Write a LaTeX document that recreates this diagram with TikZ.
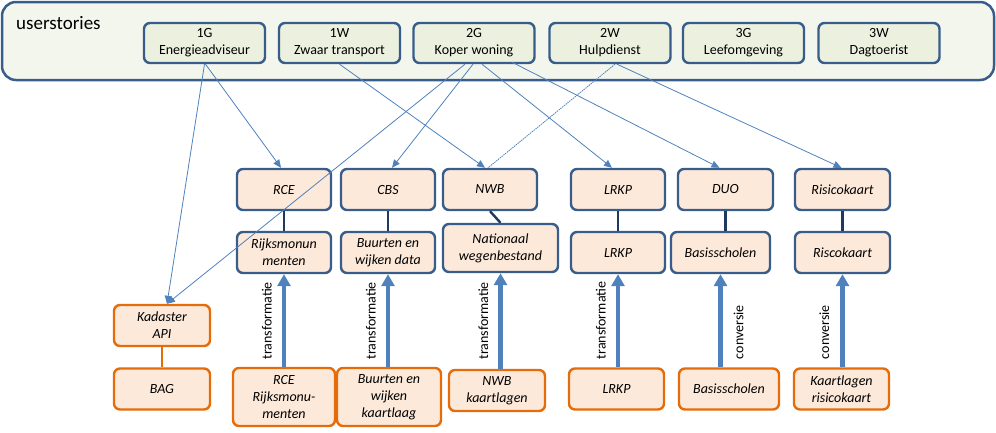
\documentclass[tikz,border=0pt]{standalone}
\usepackage{fontspec}
\setmainfont{Carlito}
\usepackage{tikz}
\usetikzlibrary{arrows.meta}
\definecolor{boxblue}{HTML}{385D8A}
\definecolor{storyfill}{HTML}{EBF1DE}
\definecolor{outerfill}{HTML}{F3F6EC}
\definecolor{peach}{HTML}{FDE9D9}
\definecolor{rawline}{HTML}{E46C0A}
\definecolor{linkblue}{HTML}{4F81BD}
\definecolor{navy}{HTML}{1F3A60}
\begin{document}
\begin{tikzpicture}[x=1pt,y=-1pt,
        story/.style={draw=boxblue,fill=storyfill,line width=2.4pt,rounded corners=6pt,minimum width=121pt,minimum height=40pt,inner sep=0pt,align=center,font=\fontsize{14}{17}\selectfont},
        src/.style={draw=boxblue,fill=peach,line width=2.4pt,rounded corners=6pt,minimum width=94pt,minimum height=41pt,inner sep=0pt,align=center,font=\fontsize{14}{17}\selectfont\itshape},
        raw/.style={src,draw=rawline},
        joinline/.style={navy,line width=2.4pt},
        link/.style={linkblue,line width=0.8pt,-{Triangle[length=8pt,width=7pt]}},
        conv/.style={linkblue,line width=4.5pt,-{Triangle[length=12pt,width=13pt]}},
        lbl/.style={inner sep=0pt,rotate=90,text=black,font=\fontsize{14}{17}\selectfont}]
        \useasboundingbox (0,0) rectangle (996,432);
        \draw[boxblue,fill=outerfill,line width=2.5pt,rounded corners=14pt] (2,2) rectangle (994,80);
        \node[anchor=base west,inner sep=0pt,font=\fontsize{19}{22}\selectfont] (title) at (16,29) {userstories};

        \node[story] (s1g) at (204.5,43) {1G\\Energieadviseur};
        \node[story] (s1w) at (339.5,43) {1W\\Zwaar transport};
        \node[story] (s2g) at (474,43) {2G\\Koper woning};
        \node[story] (s2w) at (610,43) {2W\\Hulpdienst};
        \node[story] (s3g) at (743.5,43) {3G\\Leefomgeving};
        \node[story] (s3w) at (879,43) {3W\\Dagtoerist};

        \node[src] (rce) at (284,189.5) {RCE};
        \node[src] (cbs) at (388,189.5) {CBS};
        \node[src] (nwb) at (490,189.5) {NWB};
        \node[src] (lrkp) at (618,189.5) {LRKP};
        \node[src,minimum width=95pt] (duo) at (725.5,189.5) {DUO};
        \node[src,minimum width=95pt] (risico) at (842.5,189.5) {Risicokaart};

        \node[src] (rijks) at (284,252.5) {Rijksmonun\\menten};
        \node[src] (buurt) at (388,252.5) {Buurten en\\wijken data};
        \node[src,minimum width=115pt,minimum height=48pt] (nwbd) at (500.5,248) {Nationaal\\wegenbestand};
        \node[src] (lrkpd) at (618,252.5) {LRKP};
        \node[src,minimum width=99pt] (basis) at (720.5,252.5) {Basisscholen};
        \node[src,minimum width=95pt] (risicod) at (842.5,252.5) {Riscokaart};

        \node[raw,minimum width=96pt] (kad) at (162,325.5) {Kadaster\\API};
        \node[raw,minimum width=96pt] (bag) at (162,389) {BAG};
        \node[raw,minimum width=102pt,minimum height=58pt] (rceb) at (284,397) {RCE\\Rijksmonu-\\menten};
        \node[raw,minimum width=104pt,minimum height=58pt] (buurtb) at (389,397) {Buurten en\\wijken\\kaartlaag};
        \node[raw,minimum width=96pt] (nwbb) at (497,390.5) {NWB\\kaartlagen};
        \node[raw,minimum width=95pt] (lrkpb) at (616.5,389) {LRKP};
        \node[raw,minimum width=100pt] (basisb) at (729,389) {Basisscholen};
        \node[raw,minimum width=95pt] (risicob) at (841.5,389) {Kaartlagen\\risicokaart};

        \draw[joinline] (rce) -- (rijks);
        \draw[joinline] (cbs) -- (buurt);
        \draw[joinline] (nwb.south) -- (nwbd.north);
        \draw[joinline] (lrkp) -- (lrkpd);
        \draw[joinline] (duo.south) -- (duo.south |- basis.north);
        \draw[joinline] (risico) -- (risicod);
        \draw[rawline,line width=2.4pt] (kad) -- (bag);

        \draw[conv] (rceb.north -| rijks.south) -- node[pos=0,xshift=-10pt,yshift=5pt,lbl,anchor=south west] {transformatie} (rijks.south);
        \draw[conv] (buurtb.north -| buurt.south) -- node[pos=0,xshift=-10pt,yshift=5pt,lbl,anchor=south west] {transformatie} (buurt.south);
        \draw[conv] (nwbb.north -| nwbd.south) -- node[pos=0,xshift=-10pt,yshift=7pt,lbl,anchor=south west] {transformatie} (nwbd.south);
        \draw[conv] (lrkpb.north -| lrkpd.south) -- node[pos=0,xshift=-10pt,yshift=6pt,lbl,anchor=south west] {transformatie} (lrkpd.south);
        \draw[conv] (basisb.north -| basis.south) -- node[pos=0,xshift=11pt,yshift=6pt,lbl,anchor=north west] {conversie} (basis.south);
        \draw[conv] (risicob.north -| risicod.south) -- node[pos=0,xshift=-11pt,yshift=6pt,lbl,anchor=south west] {conversie} (risicod.south);

        \draw[link] (s1g.south) -- ([xshift=5pt]kad.north);
        \draw[link] ([xshift=1pt]s1g.south) -- ([xshift=-3pt]rce.north);
        \draw[link] (s1w.south) -- ([xshift=-5pt]nwb.north);
        \draw[link] ([xshift=-9pt]s2g.south) -- ([xshift=5pt]kad.north);
        \draw[link] ([xshift=-1pt]s2g.south) -- ([xshift=4pt]cbs.north);
        \draw[link] ([xshift=8pt]s2g.south) -- ([xshift=-6pt]lrkp.north);
        \draw[link] ([xshift=38pt,yshift=2pt]s2g.south) -- ([xshift=-6pt]duo.north);
        \draw[link,dash pattern=on 1.5pt off 0.8pt,-] ([xshift=5pt]s2w.south) -- ([xshift=-2pt]nwb.north);
        \draw[link] ([xshift=7pt]s2w.south) -- ([xshift=-1pt]risico.north);
\end{tikzpicture}
\end{document}
